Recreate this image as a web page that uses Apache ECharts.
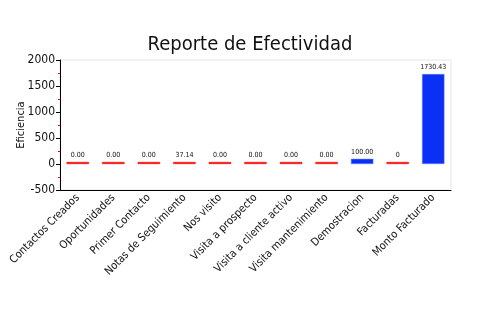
<!DOCTYPE html>
<html>
<head>
<meta charset="utf-8">
<script src="https://cdn.jsdelivr.net/npm/echarts@6/dist/echarts.min.js"></script>
<style>
  html, body { margin: 0; padding: 0; background: #ffffff; }
  #chart { width: 500px; height: 330px; }
</style>
</head>
<body>
<div id="chart"></div>
<script>
// Effectiveness report: one bar per activity stage
const categories = [
  'Contactos Creados', 'Oportunidades', 'Primer Contacto', 'Notas de Seguimiento',
  'Nos visito', 'Visita a prospecto', 'Visita a cliente activo', 'Visita mantenimiento',
  'Demostracion', 'Facturadas', 'Monto Facturado'
];
const values = [0, 0, 0, 37.14, 0, 0, 0, 0, 100.00, 0, 1730.43];
const valueLabels = ['0.00', '0.00', '0.00', '37.14', '0.00', '0.00', '0.00', '0.00', '100.00', '0', '1730.43'];
const barColors = ['#ff0000', '#ff0000', '#ff0000', '#ff0000', '#ff0000', '#ff0000',
                   '#ff0000', '#ff0000', '#0a2ff5', '#ff0000', '#0a2ff5'];
const barEdges = ['#ff0000', '#ff0000', '#ff0000', '#ff0000', '#ff0000', '#ff0000',
                  '#ff0000', '#ff0000', '#6680ff', '#ff0000', '#6680ff'];
const yTicks = { min: -500, max: 2000, step: 500 };

const FONT = 'DejaVu Sans Condensed';

const chart = echarts.init(document.getElementById('chart'), null, { renderer: 'canvas' });

chart.setOption({
  backgroundColor: '#ffffff',
  animation: false,
  title: {
    text: 'Reporte de Efectividad',
    left: 'center',
    top: 30,
    textStyle: { fontFamily: FONT, fontSize: 20, fontWeight: 'normal', color: '#111111' }
  },
  grid: {
    left: 60, right: 49, top: 60, bottom: 140,
    show: true, borderColor: '#e6e6e6', borderWidth: 1, backgroundColor: '#ffffff'
  },
  xAxis: {
    type: 'category',
    data: categories,
    axisLine: { onZero: false, lineStyle: { color: '#000000', width: 1 } },
    axisTick: { alignWithLabel: true, length: 3, lineStyle: { color: '#333333' } },
    axisLabel: {
      rotate: 45, interval: 0, margin: 6,
      fontFamily: FONT, fontSize: 11, color: '#111111'
    },
    splitLine: { show: false }
  },
  yAxis: {
    type: 'value',
    min: yTicks.min, max: yTicks.max, interval: yTicks.step,
    name: 'Eficiencia',
    nameLocation: 'middle',
    nameGap: 33,
    nameMoveOverlap: false,
    nameTextStyle: { fontFamily: FONT, fontSize: 11, color: '#111111' },
    axisLine: { show: true, lineStyle: { color: '#000000', width: 1 } },
    axisTick: { show: true, length: 4, lineStyle: { color: '#000000' } },
    minorTick: { show: true, splitNumber: 2, length: 2, lineStyle: { color: '#ff0000' } },
    axisLabel: {
      margin: 5, fontFamily: FONT, fontSize: 12, color: '#111111',
      formatter: v => String(v)
    },
    splitLine: { show: false }
  },
  series: [{
    type: 'bar',
    barWidth: '63%',
    barMinHeight: 2,
    data: values.map((v, i) => ({
      value: v,
      itemStyle: { color: barColors[i], borderColor: barEdges[i], borderWidth: 0.5 },
      label: { formatter: valueLabels[i] }
    })),
    label: {
      show: true, position: 'top', distance: 3,
      fontFamily: FONT, fontSize: 7, color: '#111111'
    }
  }]
});
</script>
</body>
</html>
